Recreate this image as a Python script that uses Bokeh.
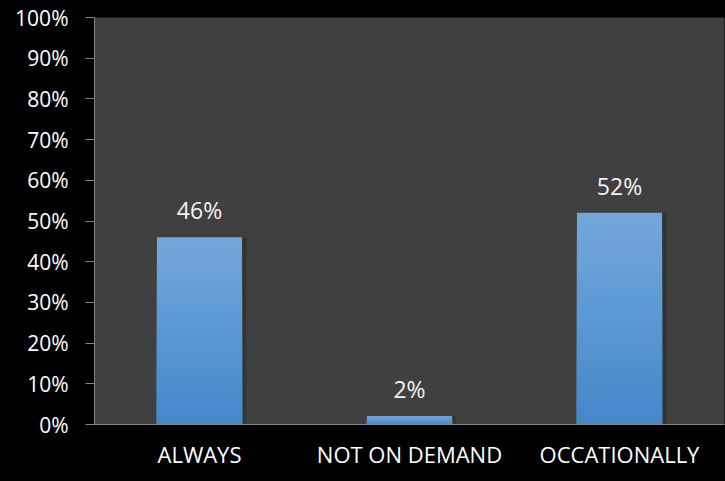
from bokeh.plotting import figure
from bokeh.models import ColumnDataSource, NumeralTickFormatter, FixedTicker, Range1d
from bokeh.core.properties import value
from bokeh.embed import file_html
from bokeh.resources import INLINE

categories = ["ALWAYS", "NOT ON DEMAND", "OCCATIONALLY"]
shares = [0.46, 0.02, 0.52]
share_labels = ["46%", "2%", "52%"]
y_ticks = [0.0, 0.1, 0.2, 0.3, 0.4, 0.5, 0.6, 0.7, 0.8, 0.9, 1.0]

FONT = "Open Sans"
TOP_RGB = (116, 168, 220)
BOT_RGB = (68, 136, 202)
BAR_W = 0.405

p = figure(x_range=categories, y_range=Range1d(0, 1), width=725, height=481,
           output_backend="svg", toolbar_location=None,
           min_border_left=94, min_border_right=1, min_border_top=17, min_border_bottom=57)
p.background_fill_color = "#404040"
p.border_fill_color = "#000000"
p.outline_line_color = None
p.xgrid.grid_line_color = None
p.ygrid.grid_line_color = None

# subtle shadow
p.vbar(x=[(c, 0.02) for c in categories], top=shares, width=BAR_W, bottom=0,
       fill_color="#000000", fill_alpha=0.18, line_color=None)

# gradient bars: overlapping layers from full height downwards (no seams)
N = 40
xs, tops, cols = [], [], []
for k in range(N, 0, -1):
    t = (k - 0.5) / N
    r = int(BOT_RGB[0] + (TOP_RGB[0] - BOT_RGB[0]) * t)
    g = int(BOT_RGB[1] + (TOP_RGB[1] - BOT_RGB[1]) * t)
    b = int(BOT_RGB[2] + (TOP_RGB[2] - BOT_RGB[2]) * t)
    for c, v in zip(categories, shares):
        xs.append(c)
        tops.append(v * k / N)
        cols.append("#%02x%02x%02x" % (r, g, b))
src = ColumnDataSource(dict(x=xs, top=tops, color=cols))
p.vbar(x="x", bottom=0, top="top", width=BAR_W, fill_color="color",
       line_color=None, source=src)

lab = ColumnDataSource(dict(x=categories, y=shares, t=share_labels))
p.text(x="x", y="y", text="t", source=lab, text_align="center", text_baseline="bottom",
       y_offset=-11, text_color="#f2f2f2", text_font=value(FONT), text_font_size="23px")

p.yaxis.ticker = FixedTicker(ticks=y_ticks)
p.yaxis.formatter = NumeralTickFormatter(format="0%")
p.yaxis.major_tick_out = 9
p.yaxis.major_tick_in = 0
p.yaxis.minor_tick_line_color = None
p.yaxis.axis_line_color = "#868686"
p.yaxis.major_tick_line_color = "#868686"
p.yaxis.major_label_standoff = 17
p.yaxis.major_label_text_color = "#ffffff"
p.yaxis.major_label_text_font = FONT
p.yaxis.major_label_text_font_size = "21px"

p.xaxis.major_tick_out = 0
p.xaxis.major_tick_in = 0
p.xaxis.axis_line_color = "#868686"
p.xaxis.major_label_standoff = 14
p.xaxis.major_label_text_color = "#ffffff"
p.xaxis.major_label_text_font = FONT
p.xaxis.major_label_text_font_size = "22px"

html = file_html(p, INLINE)
html = html.replace("<head>", "<head><style>html,body{margin:0;padding:0;background:#000;overflow:hidden;}</style>", 1)
open("out.html", "w").write(html)
